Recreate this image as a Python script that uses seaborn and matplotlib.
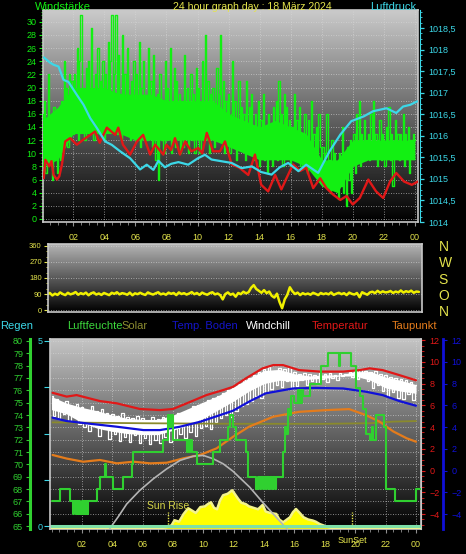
import numpy as np
import matplotlib
matplotlib.use("Agg")
import matplotlib.pyplot as plt
import seaborn as sns
from matplotlib.colors import LinearSegmentedColormap
from matplotlib.ticker import MultipleLocator, FixedLocator, FuncFormatter

sns.set_style("dark")
plt.rcParams['font.family'] = ['Liberation Sans', 'DejaVu Sans']

# ---------------- data: top panel (wind / pressure), 5-minute gusts ----------------
gust = [16, 8, 18, 7, 12, 22, 9, 14, 6, 17, 10, 15,
        7, 13, 9, 18, 12, 24, 14, 20, 11, 22, 16, 21,
        13, 22, 16, 26, 12, 24, 31, 14, 20, 12, 23, 17,
        24, 13, 29, 18, 12, 22, 16, 26, 13, 21, 15, 24,
        12, 22, 17, 27, 14, 24, 31, 16, 22, 31, 13, 25,
        19, 12, 28, 15, 22, 13, 26, 18, 12, 21, 16, 24,
        12, 22, 15, 27, 11, 20, 24, 13, 18, 12, 26, 16,
        21, 11, 25, 15, 9, 19, 6, 22, 12, 18, 10, 24,
        12, 20, 15, 26, 10, 18, 23, 11, 21, 14, 19, 10,
        18, 11, 25, 14, 20, 10, 17, 22, 12, 19, 10, 23,
        13, 20, 10, 18, 24, 12, 28, 15, 21, 10, 19, 14,
        20, 11, 17, 23, 12, 19, 28, 13, 21, 10, 18, 14,
        19, 10, 16, 24, 12, 18, 9, 15, 21, 11, 17, 13,
        16, 9, 21, 12, 17, 10, 19, 13, 9, 16, 11, 18,
        8, 15, 11, 19, 9, 14, 7, 16, 10, 13, 8, 17,
        12, 18, 9, 21, 13, 16, 8, 19, 11, 17, 10, 15,
        8, 14, 11, 19, 9, 15, 12, 17, 8, 13, 10, 16,
        12, 7, 15, 9, 18, 10, 13, 7, 14, 9, 16, 11,
        7, 11, 5, 10, 16, 6, 9, 4, 12, 7, 10, 5,
        8, 3, 10, 5, 14, 4, 9, 2, 11, 6, 12, 4,
        9, 13, 7, 16, 10, 18, 8, 13, 11, 15, 9, 12,
        13, 9, 16, 11, 18, 10, 13, 8, 12, 15, 9, 13,
        12, 8, 14, 10, 17, 9, 13, 5, 12, 15, 10, 13,
        9, 13, 11, 16, 8, 13, 10, 14, 7, 12, 11, 13,
        12]
gust_times = np.arange(len(gust)) / 12

# dense core of the gust trace, hourly
core_hours = list(range(25))
core_lo = [8, 9, 13, 13, 13, 13, 12, 12, 12, 12, 12, 12, 11, 10, 9, 9, 9, 8, 5, 4, 8, 9, 9, 9, 9]
core_hi = [15, 17, 20, 20, 20, 19, 19, 19, 18, 18, 18, 18, 16, 15, 14, 15, 14, 13, 9, 9, 12, 12, 12, 12, 12]

wind_avg_h = [0.1, 0.2, 0.45, 0.6, 0.73, 0.95, 1.1, 1.27, 1.48, 1.8, 2.23, 2.66, 3.1, 3.4, 3.7, 4.16,
              4.7, 4.9, 5.2, 5.66, 6.1, 6.5, 6.95, 7.27, 7.8, 8.0, 8.3, 8.55, 8.87, 9.2, 9.6, 10.05,
              10.3, 10.6, 11.0, 11.45, 11.77, 12.2, 12.7, 13.27, 13.7, 14.1, 14.55, 15.0, 15.4, 15.95,
              16.16, 16.6, 17.0, 17.45, 17.9, 18.3, 18.74, 19.2, 19.6, 20.0, 20.45, 21.0, 21.5, 21.96,
              22.4, 22.8, 23.3, 23.8, 24.2]
wind_avg = [6.2, 9.0, 8.0, 8.8, 6.7, 6.0, 6.5, 8.3, 11.8, 12.3, 11.3, 12.1, 12.8, 13.3, 11.6, 13.9,
            12.8, 13.9, 11.3, 9.8, 11.8, 12.8, 9.8, 11.3, 9.8, 11.3, 10.5, 12.3, 9.8, 11.8, 10.3, 10.8,
            10.0, 13.1, 10.3, 10.3, 11.8, 8.3, 7.8, 6.7, 9.8, 5.2, 4.2, 6.7, 4.5, 7.3,
            8.3, 7.3, 7.8, 4.7, 6.2, 4.7, 3.7, 2.9, 3.5, 2.2, 3.2, 6.0, 4.2, 3.2,
            5.7, 7.0, 5.7, 5.2, 5.7]

press_h = [0.1, 0.5, 0.73, 1.05, 1.37, 1.69, 2.23, 2.66, 3.09, 3.52, 4.05, 4.48, 5.02, 5.66, 6.3,
           6.73, 7.16, 7.48, 7.9, 8.3, 8.77, 9.4, 10.03, 10.48, 10.9, 11.55, 12.2, 12.84, 13.5, 14.1,
           14.77, 15.3, 15.84, 16.5, 17.0, 17.77, 18.5, 19.2, 19.9, 20.7, 21.3, 22.17, 22.8, 23.24,
           23.7, 24.15]
press = [1017.82, 1017.7, 1017.65, 1017.61, 1017.30, 1017.25, 1016.95, 1016.72, 1016.41, 1016.18,
         1015.87, 1015.79, 1015.64, 1015.48, 1015.22, 1015.33, 1015.21, 1015.42, 1015.27, 1015.35,
         1015.39, 1015.33, 1015.48, 1015.56, 1015.45, 1015.41, 1015.37, 1015.25, 1015.29, 1015.16,
         1015.10, 1015.27, 1015.37, 1015.18, 1015.33, 1015.14, 1015.64, 1016.03, 1016.34, 1016.45,
         1016.57, 1016.64, 1016.53, 1016.68, 1016.72, 1016.80]

# ---------------- data: wind direction, 10-minute ----------------
direction = [88, 96, 82, 92, 85, 99,  90, 84, 97, 88, 93, 101,  86, 95, 89, 98, 83, 94,
             99, 87, 93, 85, 96, 90,  84, 97, 91, 100, 88, 95,  92, 86, 98, 83, 94, 89,
             97, 90, 85, 99, 92, 87,  94, 100, 88, 93, 86, 98,  91, 96, 84, 99, 90, 95,
             87, 93, 101, 89, 96, 85,  98, 91, 86, 95, 100, 88,  93, 84, 60, 90, 99, 86,
             92, 75, 96, 89, 103, 94,  100, 125, 140, 118, 108, 97,  112, 95, 104, 80, 70, 92,
             45, 10, 60, 85, 128, 105,  90, 98, 84, 95, 88, 93,  86, 97, 91, 84, 96, 89,
             94, 88, 99, 85, 92, 97,  89, 95, 84, 98, 91, 87,  96, 72, 100, 93, 86, 99,
             103, 95, 108, 97, 105, 99,  101, 107, 96, 104, 99, 110,  98, 106, 101, 109, 97, 104,
             102]
dir_times = np.arange(len(direction)) / 6

# ---------------- data: bottom panel ----------------
temp_h = [0.07, 1.0, 1.65, 3.19, 4.3, 5.82, 7.14, 8.0, 8.9, 10.2, 11.3, 11.95, 12.8, 13.9, 14.6,
          15.24, 16.3, 17.66, 19.2, 20.3, 20.95, 21.8, 22.9, 24.0]
temp = [7.15, 6.8, 6.94, 6.39, 6.18, 5.66, 5.56, 5.66, 6.18, 6.94, 7.4, 7.7, 8.48, 9.4, 9.7,
        9.7, 9.24, 9.1, 9.1, 9.24, 9.4, 9.24, 8.78, 8.3]

soil_h = [0.07, 1.0, 2.3, 4.3, 6.05, 7.14, 8.46, 9.8, 11.1, 11.95, 13.0, 14.1, 15.9, 17.4, 19.2,
          20.7, 21.8, 22.9, 24.0]
soil = [4.86, 4.55, 4.34, 4.03, 3.72, 3.72, 4.03, 4.49, 5.1, 5.5, 6.33, 7.1, 7.55, 7.6, 7.55,
        7.25, 6.94, 6.39, 5.96]

dew_h = [0.07, 1.0, 2.09, 3.19, 4.3, 5.4, 6.5, 7.6, 8.68, 9.78, 10.87, 11.95, 13.0, 14.6, 16.3,
         18.1, 19.6, 20.7, 21.6, 22.5, 23.4, 24.0]
dew = [1.43, 1.1, 0.81, 0.97, 0.66, 0.81, 0.66, 0.72, 1.12, 1.43, 2.04, 3.1, 4.03, 4.95, 5.4,
       5.56, 5.65, 5.1, 4.5, 3.6, 2.96, 2.65]

olive_h = [0.07, 6.0, 12.0, 18.0, 21.0, 22.5, 24.0]
olive = [4.43, 4.35, 4.3, 4.3, 4.35, 4.5, 4.55]

wc_hours = list(range(25))
wc_hi = [6.8, 6.2, 5.8, 5.5, 5.1, 4.8, 4.7, 4.7, 5.1, 5.7, 6.3, 6.9, 7.7, 8.5, 9.2, 9.3, 8.9,
         8.7, 8.8, 8.8, 9.1, 9.1, 8.6, 8.3, 7.9]
wc_lo = [5.6, 5.2, 4.4, 3.9, 3.6, 3.4, 3.3, 3.3, 3.7, 4.2, 4.8, 5.6, 6.4, 7.3, 8.0, 8.3, 8.2,
         8.4, 8.5, 8.7, 8.7, 8.3, 7.6, 7.3, 7.1]
windchill = [6.9, 5.0, 6.6, 4.7, 6.2, 5.2,  6.4, 4.6, 5.9, 4.9, 6.1, 4.3,  5.8, 4.0, 5.6, 3.6, 5.9, 4.2,
             5.5, 3.2, 5.7, 3.8, 5.3, 2.9,  5.2, 3.4, 5.0, 2.7, 5.3, 3.1,  4.9, 2.6, 4.8, 3.3, 5.0, 2.5,
             4.8, 3.0, 4.6, 2.4, 4.9, 2.8,  4.7, 2.5, 4.9, 3.1, 4.6, 2.6,  5.0, 2.9, 5.3, 3.4, 5.1, 3.0,
             5.6, 3.5, 5.9, 3.2, 6.0, 3.9,  6.2, 4.1, 6.5, 3.8, 6.7, 4.5,  6.9, 4.8, 7.1, 5.1, 7.4, 4.9,
             7.6, 5.5, 8.0, 5.9, 8.3, 6.1,  8.5, 6.4, 8.8, 6.9, 9.1, 6.7,  9.3, 7.2, 9.5, 7.5, 9.2, 7.9,
             9.4, 7.7, 9.3, 8.2, 9.5, 7.6,  9.1, 7.8, 8.9, 8.3, 9.0, 7.9,  8.9, 8.2, 8.8, 8.0, 9.0, 8.4,
             8.9, 8.1, 9.0, 8.5, 8.8, 8.3,  9.0, 8.7, 8.9, 8.8, 9.1, 8.6,  9.2, 8.4, 9.3, 8.6, 9.2, 8.2,
             9.1, 7.6, 9.2, 7.9, 8.9, 7.3,  8.8, 6.9, 8.6, 7.2, 8.5, 6.7,  8.4, 6.6, 8.3, 7.0, 8.1, 6.5,
             7.9]
wc_times = np.arange(len(windchill)) / 6

hum_h = [0.0, 0.55, 1.21, 1.43, 1.5, 1.58, 1.66, 1.74, 1.82, 1.9, 1.98, 2.06, 2.14, 2.22, 2.3,
         2.36, 2.42, 2.97, 3.19, 3.5, 3.58, 4.07, 4.72, 5.28, 5.38, 7.36, 7.65, 7.75, 7.85, 8.0,
         8.9, 8.98, 9.06, 9.14, 9.22, 9.56, 10.65, 11.1, 11.6, 11.75, 11.95, 12.17, 12.83, 12.94, 13.49,
         13.6, 13.7, 13.8, 13.9, 14.0, 14.1, 14.2, 14.3, 14.4, 14.5, 14.6, 14.7, 14.8, 15.24, 15.35,
         15.45, 15.55, 15.7, 15.8, 16.0, 16.23, 16.3, 16.37, 16.44, 16.5, 16.56, 17.0, 17.77, 18.2, 18.9,
         19.0, 19.74, 20.07, 20.3, 20.5, 20.7, 20.95, 21.1, 21.2, 21.35, 21.9, 22.0, 22.05, 22.6, 24.0,
         24.3]
hum = [67, 68, 67, 66, 67, 66, 67, 66, 67, 66, 67, 66, 67, 66, 67,
       66, 67, 68, 69, 70, 69, 68, 69, 70, 71, 72, 74, 73, 74, 72,
       71, 72, 71, 72, 71, 70, 71, 72, 73, 74, 73, 72, 71, 69, 68,
       69, 68, 69, 68, 69, 68, 69, 68, 69, 68, 69, 68, 69, 71, 73,
       72.5, 74.5, 74, 75.5, 75, 76, 75, 76, 75, 76, 75.5, 76.5, 78, 79, 78,
       79, 78, 76.2, 75.5, 74.5, 72.5, 72, 73, 72, 74, 73, 72, 68, 67, 68,
       68]

solar_h = [0.0, 7.0, 7.3, 7.6, 7.9, 8.1, 8.4, 8.7, 9.0, 9.3, 9.5, 9.8, 10.1, 10.3, 10.5, 10.7, 10.9,
           11.1, 11.3, 11.6, 11.9, 12.1, 12.3, 12.5, 12.8, 13.0, 13.3, 13.6, 13.9, 14.1, 14.4, 14.8,
           15.0, 15.25, 15.5, 15.7, 15.9, 16.1, 16.3, 16.6, 16.9, 17.2, 17.4, 17.66, 17.9, 18.1, 18.5,
           24.3]
solar = [0, 0, 3, 8, 20, 55, 45, 98, 137, 118, 105, 145, 150, 166, 178, 140, 130,
         190, 226, 236, 260, 230, 200, 175, 165, 150, 140, 130, 160, 115, 105, 98,
         60, 41, 60, 75, 110, 132, 110, 75, 60, 53, 45, 29, 20, 12, 0,
         0]

theo_h = [3.85, 4.4, 4.95, 5.8, 6.7, 7.58, 8.46, 9.33, 10.0, 10.65, 11.3, 11.95, 13.05, 13.9, 14.8,
          15.36, 15.5]
theo = [0, 80, 166, 258, 338, 406, 464, 493, 498, 475, 441, 390, 281, 178, 75, 12, 0]

rain_h = [-0.1, 24.33]
rain = [0, 0]

sun_times = [7.68, 19.8]
hour_ticks = list(range(2, 25, 2))

# colours
GREEN = "#12f012"
RED = "#e01818"
CYAN = "#3cd8e8"
YELLOW = "#f0f000"
TICKY = "#e4e44c"
HUMG = "#30d030"
BLUE = "#1010d8"
ORANGE = "#e47c1c"
FRAME = "#c8c8c8"

W, H = 466, 554


def rect(l, t, r, b):
    return [l / W, 1 - b / H, (r - l) / W, (b - t) / H]


def gradient_bg(ax, top):
    cmap = LinearSegmentedColormap.from_list("bg", [top, "#000000"])
    grad = np.linspace(0, 1, 256).reshape(-1, 1)
    ax.imshow(grad, aspect="auto", cmap=cmap, extent=[0, 1, 0, 1],
              transform=ax.transAxes, zorder=0, interpolation="bilinear")


def hour_fmt(x, pos):
    return f"{int(round(x)) % 24:02d}"


def style_frame(ax, color=FRAME):
    for s in ax.spines.values():
        s.set_color(color)
        s.set_linewidth(1.2)


grid_kw = dict(color="#d8d8d8", linestyle=(0, (1, 2)), linewidth=0.6, alpha=0.8)

fig = plt.figure(figsize=(W / 100, H / 100), dpi=100, facecolor="black")

# ================= top panel =================
axW = fig.add_axes(rect(43, 10, 418, 222))
gradient_bg(axW, "#cacaca")
axW.fill_between(core_hours, core_lo, core_hi, color=GREEN, lw=0, zorder=2)
sns.lineplot(x=gust_times, y=gust, drawstyle="steps-mid", color=GREEN, lw=1.0, ax=axW,
             estimator=None, sort=False, zorder=3)
sns.lineplot(x=wind_avg_h, y=wind_avg, color=RED, lw=1.7, ax=axW, estimator=None, sort=False, zorder=4)
axW.set_xlim(0.05, 24.2)
axW.set_ylim(-0.46, 31.8)
axW.set_facecolor("black")
axW.yaxis.set_major_locator(MultipleLocator(2))
axW.yaxis.set_minor_locator(MultipleLocator(0.5))
axW.xaxis.set_major_locator(FixedLocator(hour_ticks))
axW.xaxis.set_minor_locator(MultipleLocator(0.5))
axW.xaxis.set_major_formatter(FuncFormatter(hour_fmt))
axW.tick_params(axis="y", which="both", left=True, colors=GREEN, labelsize=6.5, pad=1.5)
axW.tick_params(axis="y", which="major", length=3, width=0.8)
axW.tick_params(axis="y", which="minor", length=1.5, width=0.6)
axW.tick_params(axis="x", which="both", bottom=True, color="#909090", labelcolor=TICKY,
                labelsize=6.5, pad=5)
axW.tick_params(axis="x", which="major", length=3)
axW.tick_params(axis="x", which="minor", length=2)
axW.grid(True, which="major", **grid_kw)
axW.set_axisbelow(True)
axW.set_xlabel("")
axW.set_ylabel("")
style_frame(axW)

axP = axW.twinx()
sns.lineplot(x=press_h, y=press, color=CYAN, lw=1.6, ax=axP, estimator=None, sort=False)
axP.set_ylim(1014, 1018.92)
axP.yaxis.set_major_locator(MultipleLocator(0.5))
axP.yaxis.set_minor_locator(MultipleLocator(0.125))
axP.yaxis.set_major_formatter(FuncFormatter(lambda v, p: f"{v:g}".replace(".", ",")))
axP.tick_params(axis="y", which="both", right=True, colors=CYAN, labelsize=6.5, pad=3)
axP.tick_params(axis="y", which="major", length=3, width=0.9)
axP.tick_params(axis="y", which="minor", length=1.5, width=0.6)
for k in ["left", "top", "bottom"]:
    axP.spines[k].set_visible(False)
axP.spines["right"].set_color(CYAN)
axP.spines["right"].set_position(("outward", 1.5))
axP.set_ylabel("")

fig.text(35 / W, 1 - 7 / H, "Windstärke", color=GREEN, fontsize=8, va="center", ha="left")
fig.text(252 / W, 1 - 7 / H, "24 hour graph day : 18 März 2024", color=TICKY, fontsize=7.6,
         va="center", ha="center")
fig.text(416 / W, 1 - 7 / H, "Luftdruck", color=CYAN, fontsize=8, va="center", ha="right")

# ================= middle panel =================
axD = fig.add_axes(rect(48, 244, 422, 312))
gradient_bg(axD, "#b4b4b4")
sns.lineplot(x=dir_times, y=direction, color=YELLOW, lw=1.8, ax=axD, estimator=None, sort=False)
axD.set_xlim(0.05, 24.2)
axD.set_ylim(-11, 371)
axD.set_facecolor("black")
axD.set_yticks([0, 90, 180, 270, 360])
axD.yaxis.set_minor_locator(MultipleLocator(30))
axD.set_xticks([])
axD.tick_params(axis="y", which="both", left=True, colors=TICKY, labelsize=5.5, pad=1.5)
axD.tick_params(axis="y", which="major", length=3)
axD.tick_params(axis="y", which="minor", length=1.5)
axD.grid(True, axis="y", **grid_kw)
axD.set_axisbelow(True)
axD.set_xlabel("")
axD.set_ylabel("")
style_frame(axD)

axD2 = axD.twinx()
axD2.set_ylim(-11, 371)
axD2.set_yticks([0, 90, 180, 270, 360])
axD2.set_yticklabels(["N", "O", "S", "W", "N"])
axD2.tick_params(axis="y", length=0, colors=TICKY, labelsize=10, pad=12)
for s in axD2.spines.values():
    s.set_visible(False)

# ================= bottom panel =================
axH = fig.add_axes(rect(50, 339, 421, 529))
gradient_bg(axH, "#c4c4c4")
axH.set_xlim(-0.1, 24.33)
axH.set_ylim(64.76, 80.16)
axH.set_facecolor("black")
axH.yaxis.set_major_locator(MultipleLocator(1))
axH.xaxis.set_major_locator(FixedLocator(hour_ticks))
axH.xaxis.set_minor_locator(MultipleLocator(0.5))
axH.xaxis.set_major_formatter(FuncFormatter(hour_fmt))
axH.tick_params(axis="y", which="both", left=True, colors=HUMG, labelsize=6.5, pad=2, length=3)
axH.tick_params(axis="x", which="both", bottom=True, color="#909090", labelcolor=TICKY,
                labelsize=6.5, pad=5)
axH.tick_params(axis="x", which="major", length=3)
axH.tick_params(axis="x", which="minor", length=2)
axH.grid(True, **grid_kw)
axH.set_axisbelow(True)
style_frame(axH)
axH.spines["left"].set_position(("outward", 14.4))
axH.spines["left"].set_color(HUMG)
axH.spines["left"].set_linewidth(2.2)

# temperature axis (red, right)
axT = axH.twinx()
axT.fill_between(wc_hours, wc_lo, wc_hi, color="white", lw=0)
sns.lineplot(x=wc_times, y=windchill, drawstyle="steps-mid", color="white", lw=0.9, ax=axT,
             estimator=None, sort=False)
sns.lineplot(x=olive_h, y=olive, color="#8a8a2c", lw=1.3, ax=axT, estimator=None, sort=False)
sns.lineplot(x=dew_h, y=dew, color=ORANGE, lw=1.6, ax=axT, estimator=None, sort=False)
sns.lineplot(x=temp_h, y=temp, color=RED, lw=1.6, ax=axT, estimator=None, sort=False)
axT.set_ylim(-5.38, 12.1)
axT.yaxis.set_major_locator(MultipleLocator(2))
axT.yaxis.set_minor_locator(MultipleLocator(0.5))
axT.tick_params(axis="y", which="both", right=True, colors=RED, labelsize=6.5, pad=3)
axT.tick_params(axis="y", which="major", length=3)
axT.tick_params(axis="y", which="minor", length=2)
for k in ["left", "top", "bottom"]:
    axT.spines[k].set_visible(False)
axT.spines["right"].set_color(FRAME)
axT.set_ylabel("")

# soil temperature axis (blue, far right)
axTB = axH.twinx()
sns.lineplot(x=soil_h, y=soil, color=BLUE, lw=1.6, ax=axTB, estimator=None, sort=False)
axTB.set_ylim(-5.38, 12.1)
axTB.yaxis.set_major_locator(MultipleLocator(2))
axTB.tick_params(axis="y", right=True, colors=BLUE, labelsize=6.5, pad=3, length=3)
for k in ["left", "top", "bottom"]:
    axTB.spines[k].set_visible(False)
axTB.spines["right"].set_position(("outward", 16))
axTB.spines["right"].set_color(BLUE)
axTB.spines["right"].set_linewidth(2)
axTB.set_ylabel("")

# solar (hidden scale)
axS = axH.twinx()
axS.fill_between(solar_h, 0, solar, color="#ffff00", lw=0)
sns.lineplot(x=solar_h, y=solar, color="#f4f48c", lw=1.8, ax=axS, estimator=None, sort=False)
sns.lineplot(x=theo_h, y=theo, color="#b4b4b4", lw=1.2, ax=axS, estimator=None, sort=False)
axS.set_ylim(-4.8, 1294)
axS.set_yticks([])
axS.set_ylabel("")
for s in axS.spines.values():
    s.set_visible(False)
for t in sun_times:
    axS.axvline(t, ymin=0.01, ymax=0.09, color="#e8e84c", lw=1, linestyle=(0, (1, 1)))
axS.text(sun_times[0], 0.122, "Sun Rise", transform=axS.get_xaxis_transform(), color="#d4d448",
         fontsize=7.5, ha="center", va="center")
axS.text(sun_times[1], -0.058, "SunSet", transform=axS.get_xaxis_transform(), color=TICKY,
         fontsize=6.5, ha="center", va="center", clip_on=False)

# rain (cyan, left at frame)
axR = axH.twinx()
sns.lineplot(x=rain_h, y=rain, color="#7ee0a8", lw=2.2, ax=axR, estimator=None, sort=False)
axR.set_ylim(-0.081, 5.054)
axR.yaxis.tick_left()
axR.set_yticks([0, 1.25, 2.5, 3.75, 5])
axR.set_yticklabels(["0", "", "", "", "5"])
axR.tick_params(axis="y", left=True, right=False, colors=CYAN, labelsize=6.5, pad=1, length=4)
for k in ["right", "top", "bottom"]:
    axR.spines[k].set_visible(False)
axR.spines["left"].set_color(FRAME)
axR.spines["left"].set_linewidth(1.2)
axR.set_ylabel("")

# humidity line on top
axHL = axH.twinx()
sns.lineplot(x=hum_h, y=hum, drawstyle="steps-post", color=HUMG, lw=1.5, ax=axHL,
             estimator=None, sort=False)
axHL.set_ylim(64.76, 80.16)
axHL.set_yticks([])
axHL.set_ylabel("")
for s in axHL.spines.values():
    s.set_visible(False)

# legend row
legend_items = [("Regen", CYAN, 0), ("Luftfeuchte", "#3cd83c", 67), ("Solar", "#8c8c30", 121),
                ("Temp. Boden", "#1414c8", 172), ("Windchill", "white", 246),
                ("Temperatur", RED, 312), ("Taupunkt", ORANGE, 392)]
for label, col, x in legend_items:
    fig.text(x / W, 1 - 326 / H, label, color=col, fontsize=8, va="center", ha="left")

fig.savefig("out.png", dpi=100, facecolor="black")
